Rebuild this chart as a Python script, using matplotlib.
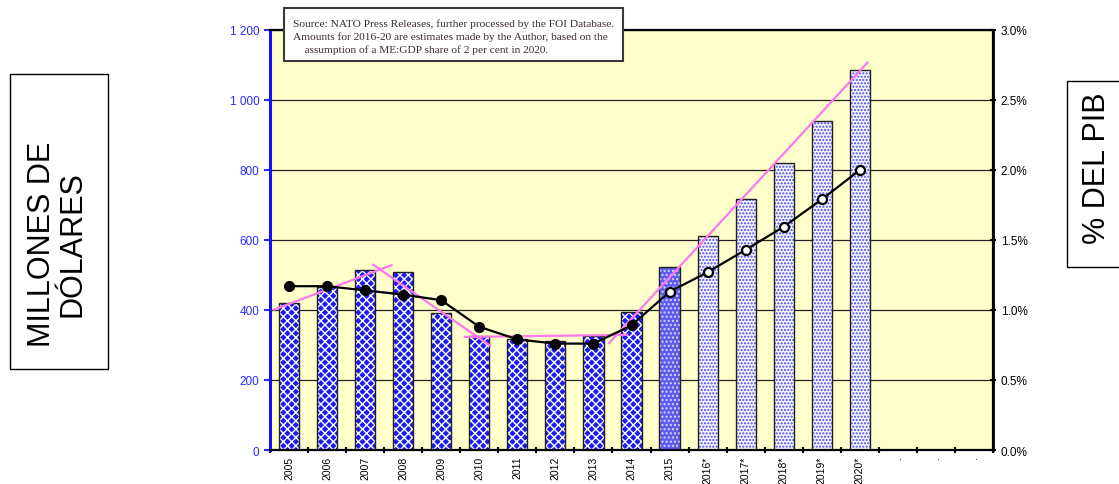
import numpy as np
import matplotlib
matplotlib.use("Agg")
import matplotlib.pyplot as plt
from matplotlib.patches import Rectangle

# data
years = ['2005', '2006', '2007', '2008', '2009', '2010', '2011', '2012', '2013', '2014',
         '2015', '2016*', '2017*', '2018*', '2019*', '2020*', '.', '.', '.']
spend = [420, 465, 514, 508, 391, 325, 317, 310, 325, 394,
         523, 611, 717, 820, 940, 1086]
gdp_share = [1.17, 1.17, 1.14, 1.11, 1.07, 0.88, 0.79, 0.76, 0.76, 0.89,
             1.13, 1.27, 1.43, 1.595, 1.79, 2.00]
# pink hand-drawn trend segments: (x0, y0, x1, y1) in category index / USD million
trend_segments = [(-0.42, 400, 2.72, 529),
                  (2.19, 531, 5.30, 297),
                  (4.59, 323, 8.92, 329),
                  (8.39, 303, 15.22, 1109)]
note = ("Source: NATO Press Releases, further processed by the FOI Database.\n"
        "Amounts for 2016-20 are estimates made by the Author, based on the\n"
        "    assumption of a ME:GDP share of 2 per cent in 2020.")

plt.rcParams['font.family'] = ['Liberation Sans', 'DejaVu Sans']
plt.rcParams['hatch.linewidth'] = 1.0

fig = plt.figure(figsize=(11.19, 4.85), dpi=100)
ax = fig.add_axes([0.2413, 0.0701, 0.6461, 0.866])
ax.set_facecolor('#ffffcc')

x = np.arange(len(years))
n = len(spend)
w = 0.53
# actual 2005-2014
ax.bar(x[:10], spend[:10], w, color='#1c1cf0', edgecolor='white', hatch='xxxx', lw=0, zorder=2)
# 2015
ax.bar(x[10:11], spend[10:11], w, color='#5c5cf0', edgecolor='#d8d8ff', hatch='....', lw=0, zorder=2)
# estimates
ax.bar(x[11:n], spend[11:n], w, color='#f4f4ff', edgecolor='#4848f0', hatch='.....', lw=0, zorder=2)
ax.bar(x[:n], spend, w, fill=False, edgecolor='#202020', lw=1.0, zorder=3)

for x0, y0, x1, y1 in trend_segments:
    ax.plot([x0, x1], [y0, y1], color='#ff77ee', lw=1.6, zorder=4, solid_capstyle='butt')

ax.set_xlim(-0.5, len(years) - 0.5)
ax.set_ylim(0, 1200)
ax.set_yticks(range(0, 1201, 200))
ax.set_yticklabels(['0', '200', '400', '600', '800', '1 000', '1 200'])
ax.tick_params(axis='y', colors='#2a2aff', labelsize=8.5, length=4, width=1.5)
ax.yaxis.grid(True, color='#222222', lw=0.9)
ax.set_axisbelow(True)

ax.set_xticks(x)
ax.set_xticklabels(years, rotation=90, fontsize=7.5)
ax.set_xticks(np.arange(-0.5, len(years) + 0.5), minor=True)
ax.tick_params(axis='x', which='major', length=0, pad=4)
ax.tick_params(axis='x', which='minor', length=5, width=1.5, direction='inout')

for s in ['top', 'right', 'bottom']:
    ax.spines[s].set_color('black')
    ax.spines[s].set_linewidth(1.6)
ax.spines['left'].set_color('#1010ff')
ax.spines['left'].set_linewidth(2.2)

ax2 = ax.twinx()
ax2.set_ylim(0, 3.0)
ax2.set_yticks(np.arange(0, 3.01, 0.5))
ax2.set_yticklabels([f'{v:.1f}%' for v in np.arange(0, 3.01, 0.5)])
ax2.tick_params(axis='y', labelsize=8.5, length=4, width=1.5, direction='inout')
ax2.spines['right'].set_linewidth(2.0)
ax2.spines['left'].set_visible(False)
ax2.spines['top'].set_visible(False)
ax2.spines['bottom'].set_visible(False)

ax2.plot(x[:n], gdp_share, color='black', lw=1.6, zorder=5)
ax2.plot(x[:10], gdp_share[:10], 'o', color='black', ms=7, zorder=6)
ax2.plot(x[10:n], gdp_share[10:], 'o', mfc='white', mec='black', mew=1.6, ms=6.5, zorder=6)

# source note box
fig.patches.append(Rectangle((284 / 1119, 1 - 62 / 485), 339 / 1119, 53 / 485,
                             transform=fig.transFigure, fc='white', ec='#3a3a3a', lw=1.5, zorder=10))
fig.text(293 / 1119, 1 - 19 / 485, note, family=['Liberation Serif', 'DejaVu Serif'], fontsize=8.2,
         color='#3a2a2a', va='top', ha='left', linespacing=1.45, zorder=11)

# side labels in framed boxes
fig.patches.append(Rectangle((10 / 1119, 1 - 370 / 485), 98 / 1119, 295 / 485,
                             transform=fig.transFigure, fc='white', ec='black', lw=1.0))
fig.text(57.5 / 1119, 1 - 244 / 485, 'MILLONES DE\nDÓLARES', rotation=90, fontsize=22,
         ha='center', va='center', linespacing=1.0)
fig.patches.append(Rectangle((1067 / 1119, 1 - 268 / 485), 80 / 1119, 186 / 485,
                             transform=fig.transFigure, fc='white', ec='black', lw=1.0))
fig.text(1097 / 1119, 1 - 168 / 485, '% DEL PIB', rotation=90, fontsize=22,
         ha='center', va='center')

fig.savefig('out.png', dpi=100)
